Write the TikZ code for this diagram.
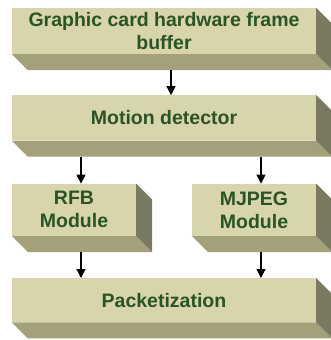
\documentclass[tikz,border=0pt]{standalone}
\usepackage{fontspec}
\setmainfont{Liberation Sans}
\usetikzlibrary{arrows.meta,positioning,calc}
\definecolor{facefront}{RGB}{216,213,172}
\definecolor{facebottom}{RGB}{164,160,122}
\definecolor{faceside}{RGB}{122,121,97}
\definecolor{labelgreen}{RGB}{40,84,38}

\begin{document}
\begin{tikzpicture}[x=1pt,y=-1pt,>={Triangle[width=9pt,length=9pt]},
    block/.style={fill=facefront,text=labelgreen,font=\fontsize{19.5}{23}\selectfont\bfseries,
      align=center,inner sep=0pt,minimum height=45pt},
    wide block/.style={block,minimum width=304pt},
    small block/.style={block,minimum width=124pt,minimum height=52pt},
    flow/.style={->,line width=1.2pt}]
  \useasboundingbox (0,0) rectangle (331,340);

  \node[wide block,minimum height=46pt] (fb) at (164,31) {Graphic card hardware frame\\buffer};
  \node[wide block]  (md) [below=41pt of fb] {Motion detector};
  \node[small block] (rfb) [below=43pt of md.south west,anchor=north west] {RFB\\Module};
  \node[small block] (mjpeg) [below=43pt of md.south east,anchor=north east] {MJPEG\\Module};
  \node[wide block,minimum height=44pt] (pk) [below=42pt of rfb.south west,anchor=north west] {Packetization};

  % depth faces
  \foreach \n in {fb,md,rfb,mjpeg,pk}{
    \fill[facebottom] (\n.south west) -- (\n.south east) -- ++(16,16)
      -- ($(\n.south west)+(16,16)$) -- cycle;
    \fill[faceside] (\n.north east) -- ++(16,16) -- ($(\n.south east)+(16,16)$)
      -- (\n.south east) -- cycle;
    \coordinate (\n-b) at ($(\n.south)+(7,16)$);
  }

  \draw[flow] (fb-b) -- (fb-b |- md.north);
  \draw[flow] (rfb-b |- md-b) -- (rfb-b |- rfb.north);
  \draw[flow] (mjpeg-b |- md-b) -- (mjpeg-b |- mjpeg.north);
  \draw[flow] (rfb-b) -- (rfb-b |- pk.north);
  \draw[flow] (mjpeg-b) -- (mjpeg-b |- pk.north);
\end{tikzpicture}
\end{document}
